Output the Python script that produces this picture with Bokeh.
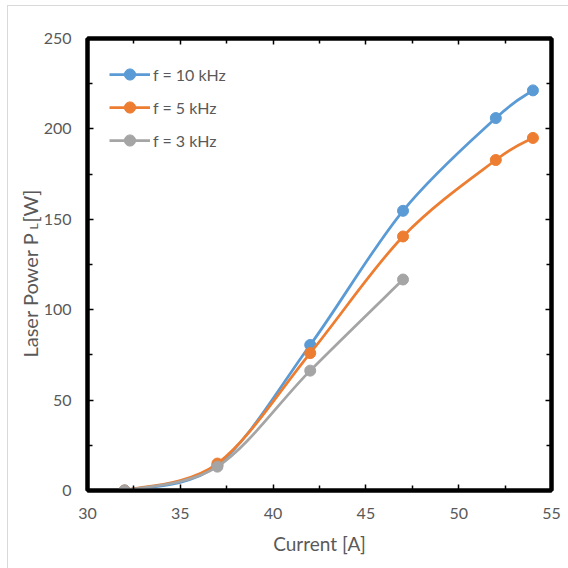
import numpy as np
from bokeh.plotting import figure
from bokeh.models import (ColumnDataSource, Legend, LegendItem, LinearAxis,
                          FixedTicker, Label, CustomJSTickFormatter, Range1d,
                          InlineStyleSheet)
from bokeh.embed import file_html
from bokeh.resources import INLINE

# ---- data ----
current_10 = [32, 37, 42, 47, 52, 54]
power_10 = [0, 14, 80.5, 154.7, 206, 221.3]
current_5 = [32, 37, 42, 47, 52, 54]
power_5 = [0, 14.9, 76, 140.5, 182.8, 195]
current_3 = [32, 37, 42, 47]
power_3 = [0, 13.2, 66.3, 116.7]
series_labels = ["f = 10 kHz", "f = 5 kHz", "f = 3 kHz"]
series_colors = ["#5B9BD5", "#ED7D31", "#A5A5A5"]
x_ticks = [30, 35, 40, 45, 50, 55]
x_minor = [32.5, 37.5, 42.5, 47.5, 52.5]
y_ticks = [0, 50, 100, 150, 200, 250]
y_minor = [25, 75, 125, 175, 225]

FONT = "Lato"
TXT = "#595959"


def bezier_source(xs, ys):
    """Catmull-Rom style smooth segments through the data points."""
    n = len(xs)
    d = dict(x0=[], y0=[], x1=[], y1=[], cx0=[], cy0=[], cx1=[], cy1=[])
    for i in range(n - 1):
        im, ip2 = max(i - 1, 0), min(i + 2, n - 1)
        d["x0"].append(xs[i]); d["y0"].append(ys[i])
        d["x1"].append(xs[i + 1]); d["y1"].append(ys[i + 1])
        d["cx0"].append(xs[i] + (xs[i + 1] - xs[im]) / 6)
        d["cy0"].append(ys[i] + (ys[i + 1] - ys[im]) / 6)
        d["cx1"].append(xs[i + 1] - (xs[ip2] - xs[i]) / 6)
        d["cy1"].append(ys[i + 1] - (ys[ip2] - ys[i]) / 6)
    return ColumnDataSource(d)


p = figure(width=568, height=568, output_backend="svg", toolbar_location=None,
           x_range=Range1d(30, 55), y_range=Range1d(0, 250),
           min_border_left=87, min_border_right=17, min_border_top=36,
           min_border_bottom=78)
p.xgrid.visible = False
p.ygrid.visible = False
p.outline_line_color = "black"
p.outline_line_width = 4
p.background_fill_color = "white"
p.border_fill_color = "white"
p.stylesheets = [InlineStyleSheet(css=(
    ":host::after { content: ''; position: absolute; left: 7px; top: 5px; "
    "width: 600px; height: 600px; border-left: 1px solid #d9d9d9; "
    "border-top: 1px solid #d9d9d9; pointer-events: none; z-index: 10; }"))]


def style_axis(ax, ticks, minor, labels=True):
    ax.ticker = FixedTicker(ticks=ticks, minor_ticks=minor)
    ax.axis_line_color = "black"
    ax.axis_line_width = 4
    ax.major_tick_in = 6
    ax.major_tick_out = 0
    ax.minor_tick_in = 5
    ax.minor_tick_out = 0
    ax.major_tick_line_color = "black"
    ax.major_tick_line_width = 1.5
    ax.minor_tick_line_color = "black"
    ax.minor_tick_line_width = 1.5
    ax.major_label_text_font = FONT
    ax.major_label_text_font_size = "16px"
    ax.major_label_text_color = TXT
    if not labels:
        ax.formatter = CustomJSTickFormatter(code="return ''")
        ax.major_label_standoff = 0
        ax.major_label_text_font_size = "1px"


style_axis(p.xaxis[0], x_ticks, x_minor)
style_axis(p.yaxis[0], y_ticks, y_minor)
p.xaxis[0].major_label_standoff = 17
p.yaxis[0].major_label_standoff = 16
p.xaxis[0].axis_label = "Current [A]"
p.xaxis[0].axis_label_text_font = FONT
p.xaxis[0].axis_label_text_font_size = "19px"
p.xaxis[0].axis_label_text_font_style = "normal"
p.xaxis[0].axis_label_text_color = TXT
p.xaxis[0].axis_label_standoff = 10

top_ax = LinearAxis()
right_ax = LinearAxis()
style_axis(top_ax, x_ticks, x_minor, labels=False)
style_axis(right_ax, y_ticks, y_minor, labels=False)
p.add_layout(top_ax, "above")
p.add_layout(right_ax, "right")

# y axis title with subscript: labels placed in side panels (not clipped),
# positioned in canvas coordinates (origin top-left)
lab_kw = dict(x_units="canvas", y_units="canvas", angle=np.pi / 2,
              text_font=FONT, text_color=TXT, text_baseline="middle",
              text_align="left")
p.add_layout(Label(x=29, y=357, text="Laser Power P", text_font_size="20px",
                   **lab_kw), "left")
p.add_layout(Label(x=33, y=229, text="L", text_font_size="12px", **lab_kw),
             "right")
p.add_layout(Label(x=29, y=222, text=" [W]", text_font_size="20px", **lab_kw),
             "above")

items = []
for xs, ys, col, lab in zip([current_10, current_5, current_3],
                            [power_10, power_5, power_3],
                            series_colors, series_labels):
    src = bezier_source(xs, ys)
    p.bezier(x0="x0", y0="y0", x1="x1", y1="y1", cx0="cx0", cy0="cy0",
             cx1="cx1", cy1="cy1", source=src, line_color=col, line_width=2.75)
    leg_line = p.line(x=xs[:1], y=ys[:1], line_color=col, line_width=2.75)
    sc = p.scatter(x=xs, y=ys, size=11, marker="circle", fill_color=col,
                   line_color=col)
    items.append(LegendItem(label=lab, renderers=[leg_line, sc]))

legend = Legend(items=items, location="top_left", margin=22, padding=0,
                border_line_color=None, background_fill_alpha=0,
                glyph_width=41, glyph_height=28, label_height=28, spacing=5,
                label_standoff=3, label_text_font=FONT,
                label_text_font_size="16px", label_text_color=TXT)
p.add_layout(legend, "center")

open("out.html", "w").write(file_html(p, INLINE))
